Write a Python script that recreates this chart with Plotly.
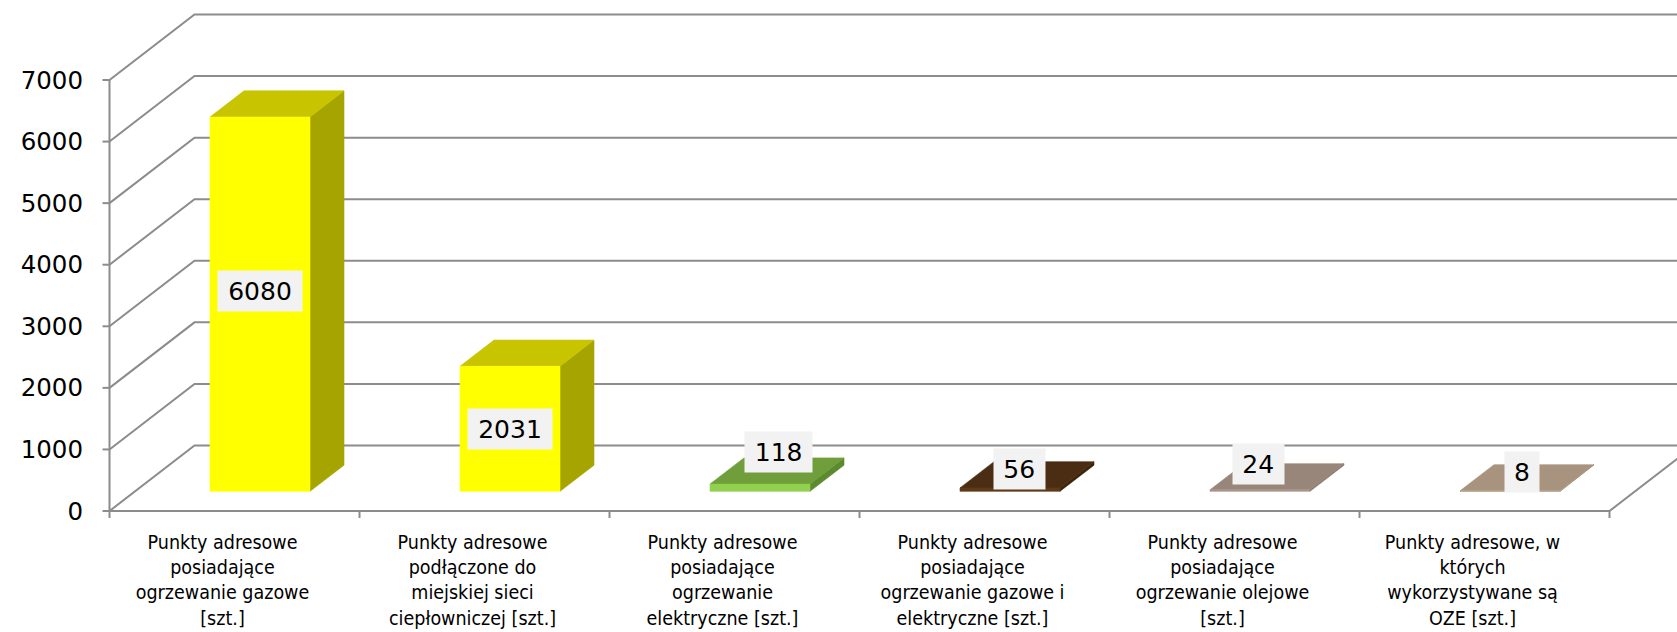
import plotly.graph_objects as go

# ---------------- data ----------------
categories = [
    "Punkty adresowe<br>posiadające<br>ogrzewanie gazowe<br>[szt.]",
    "Punkty adresowe<br>podłączone do<br>miejskiej sieci<br>ciepłowniczej [szt.]",
    "Punkty adresowe<br>posiadające<br>ogrzewanie<br>elektryczne [szt.]",
    "Punkty adresowe<br>posiadające<br>ogrzewanie gazowe i<br>elektryczne [szt.]",
    "Punkty adresowe<br>posiadające<br>ogrzewanie olejowe<br>[szt.]",
    "Punkty adresowe, w<br>których<br>wykorzystywane są<br>OZE [szt.]",
]
values = [6080, 2031, 118, 56, 24, 8]
y_ticks = [0, 1000, 2000, 3000, 4000, 5000, 6000, 7000]

# ---------------- styles ----------------
front_colors = ["#FFFF00", "#FFFF00", "#92D050", "#5E3A18", "#A89486", "#B09C86"]
top_colors = ["#C8C400", "#C8C400", "#6F9E3A", "#4A2D12", "#978679", "#A8947E"]
side_colors = ["#A6A400", "#A6A400", "#5C8A2E", "#3C2409", "#85766A", "#96846F"]
label_xshift = [0, 0, 18.5, 9, -2, 11.5]
label_yshift = [12.7, 0, 35.3, 20.7, 27, 19]

GRID = "#8C8C8C"
W, H = 1677, 632
X0_PX, PX_CAT = 109.5, 250.0          # category 0 position, px per category
Y0_PX, PX_VAL = 511.0, 431.0 / 7000.0  # value 0 position, px per unit
PLOT_L, PLOT_B_PX = 95, 522
DX = 85.0 / PX_CAT          # depth shift (category units)
DY = 65.5 / PX_VAL          # depth shift (value units)
BAR_W = 0.4
D0, D1 = 0.3, 0.7           # bar depth extent (fraction of total depth)

x_range = [(PLOT_L - X0_PX) / PX_CAT, (W - X0_PX) / PX_CAT]
y_range = [(Y0_PX - PLOT_B_PX) / PX_VAL, Y0_PX / PX_VAL]
x_end = 6 + DX + 0.5

fig = go.Figure()

# gridlines: side wall diagonal + back wall horizontal
gx, gy = [], []
for v in y_ticks:
    gx += [0, DX, x_end, None]
    gy += [v, v + DY, v + DY, None]
# floor front edge and right edge
gx += [0, 6, 6 + DX, None]
gy += [0, 0, DY, None]
# value axis line
gx += [0, 0, None]
gy += [0, y_ticks[-1], None]
# value axis tick marks
tk = 7.0 / PX_CAT
for v in y_ticks:
    gx += [-tk, 0, None]
    gy += [v, v, None]
# category axis tick marks
tv = 7.0 / PX_VAL
for k in range(len(categories) + 1):
    gx += [k, k, None]
    gy += [0, -tv, None]
fig.add_trace(go.Scatter(x=gx, y=gy, mode="lines", line=dict(color=GRID, width=2),
                         hoverinfo="skip", showlegend=False))


def poly(xs, ys, color):
    fig.add_trace(go.Scatter(x=xs + [xs[0]], y=ys + [ys[0]], mode="lines", fill="toself",
                             fillcolor=color, line=dict(color=color, width=0.6),
                             hoverinfo="skip", showlegend=False))


for i, v in enumerate(values):
    x0 = i + (1 - BAR_W) / 2 + D0 * DX
    x1 = x0 + BAR_W
    yb = D0 * DY
    ddx = (D1 - D0) * DX
    ddy = (D1 - D0) * DY
    # side face
    poly([x1, x1 + ddx, x1 + ddx, x1], [yb, yb + ddy, yb + ddy + v, yb + v], side_colors[i])
    # top face
    poly([x0, x1, x1 + ddx, x0 + ddx], [yb + v, yb + v, yb + v + ddy, yb + v + ddy], top_colors[i])
    # front face
    poly([x0, x1, x1, x0], [yb, yb, yb + v, yb + v], front_colors[i])

    txt = str(v)
    fig.add_annotation(
        x=(x0 + x1) / 2, y=yb + v / 2, xref="x", yref="y",
        text=txt, showarrow=False,
        font=dict(family="DejaVu Sans", size=25, color="#000000"),
        bgcolor="#F2F2F2", borderpad=5, width=16.75 * len(txt) + 7, height=30,
        xshift=label_xshift[i], yshift=label_yshift[i],
    )

fig.update_layout(
    width=W, height=H, autosize=False,
    margin=dict(l=PLOT_L, r=0, t=0, b=H - PLOT_B_PX, pad=0),
    paper_bgcolor="#FFFFFF", plot_bgcolor="#FFFFFF",
    showlegend=False,
    xaxis=dict(
        range=x_range, showgrid=False, zeroline=False, showline=False,
        tickvals=[i + 0.5 for i in range(len(categories))], ticktext=categories,
        ticks="", tickangle=0, ticklabelshift=-12, ticklabelstandoff=6,
        tickfont=dict(family="DejaVu Sans Condensed, Liberation Sans, sans-serif", size=19.5, color="#000000"),
        fixedrange=True,
    ),
    yaxis=dict(
        range=y_range, showgrid=False, zeroline=False, showline=False,
        tickvals=y_ticks, ticktext=[str(t) for t in y_ticks], ticks="",
        ticklabelstandoff=11,
        tickfont=dict(family="DejaVu Sans", size=24.5, color="#000000"),
        fixedrange=True,
    ),
)

fig.write_html(
    "out.html",
    config={"displayModeBar": False},
    post_script="document.body.style.margin='0';document.body.style.overflow='hidden';",
)
